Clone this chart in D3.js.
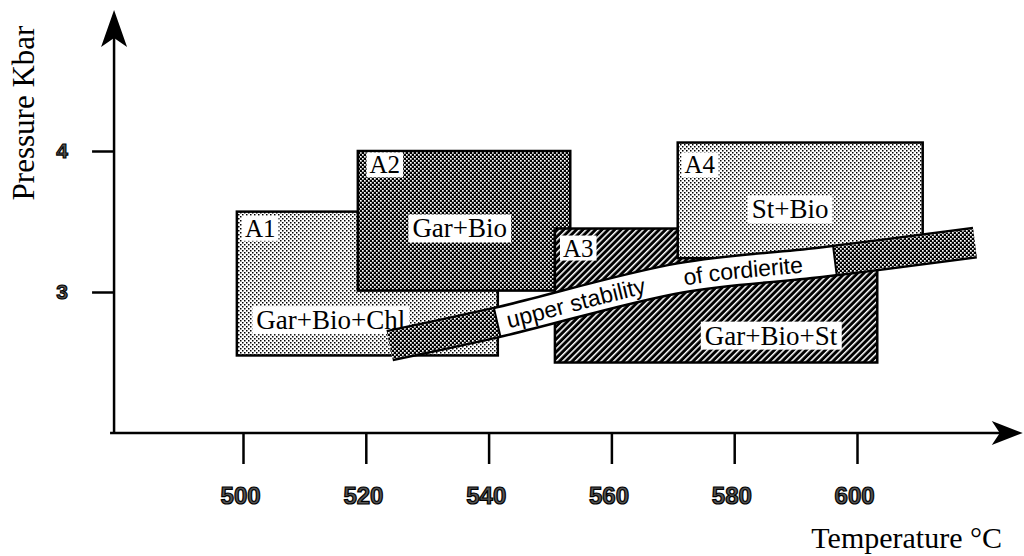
<!DOCTYPE html>
<html>
<head>
<meta charset="utf-8">
<script src="https://d3js.org/d3.v7.min.js"></script>
<style>
    body { margin: 0; background: #fff; }
    .serif { font-family: "Liberation Serif", "Times New Roman", serif; }
    .sans { font-family: "Liberation Sans", Arial, sans-serif; }
</style>
</head>
<body>
<svg width="1024" height="556"></svg>
<script>
    // axis ticks
    const tempTicks = [500, 520, 540, 560, 580, 600];
    const pressTicks = [3, 4];

    // P-T fields (degC, kbar)
    const regionNames = ["A1", "A2", "A3", "A4"];
    const regionTmin = [499, 518.7, 550.8, 570.8];
    const regionTmax = [541.5, 553.3, 603.3, 610.7];
    const regionPmin = [2.55, 3.01, 2.50, 3.24];
    const regionPmax = [3.57, 4.00, 3.45, 4.06];
    const regionLabelT = [502.8, 523.1, 554.6, 574.4];
    const regionLabelP = [3.45, 3.90, 3.31, 3.90];

    // mineral assemblages
    const assemblageNames = ["Gar+Bio+Chl", "Gar+Bio", "Gar+Bio+St", "St+Bio"];
    const assemblageT = [514.3, 535.3, 586.0, 589.1];
    const assemblageP = [2.80, 3.45, 2.69, 3.585];

    // cordierite stability band (centre line)
    const bandT = [523.9, 541.9, 571.2, 594.0, 619.2];
    const bandP = [2.62, 2.79, 3.10, 3.21, 3.35];
    const bandWhiteT = [541.4, 596.4];
    const bandLabels = ["upper stability", "of cordierite"];
    const bandLabelT = [543.0, 571.7];

    const svg = d3.select("svg");

    const x = d3.scaleLinear().domain([500, 600]).range([243, 857]);
    const y = d3.scaleLinear().domain([2, 5]).range([433, 10]);

    // fill patterns
    const defs = svg.append("defs");
    const light = defs.append("pattern").attr("id", "light")
        .attr("patternUnits", "userSpaceOnUse").attr("width", 4).attr("height", 4);
    light.append("rect").attr("width", 4).attr("height", 4).attr("fill", "#fff");
    light.append("rect").attr("width", 1.5).attr("height", 1.5).attr("fill", "#000");
    light.append("rect").attr("x", 2).attr("y", 2).attr("width", 1.5).attr("height", 1.5).attr("fill", "#000");

    const dark = defs.append("pattern").attr("id", "dark")
        .attr("patternUnits", "userSpaceOnUse").attr("width", 4).attr("height", 4);
    dark.append("rect").attr("width", 4).attr("height", 4).attr("fill", "#000");
    dark.append("rect").attr("width", 1.7).attr("height", 1.7).attr("fill", "#fff");
    dark.append("rect").attr("x", 2).attr("y", 2).attr("width", 1.7).attr("height", 1.7).attr("fill", "#fff");

    const hatch = defs.append("pattern").attr("id", "hatch")
        .attr("patternUnits", "userSpaceOnUse").attr("width", 4.5).attr("height", 4.5)
        .attr("patternTransform", "rotate(45)");
    hatch.append("rect").attr("width", 4.5).attr("height", 4.5).attr("fill", "#000");
    hatch.append("rect").attr("width", 1.5).attr("height", 4.5).attr("fill", "#fff");

    const regionPattern = ["light", "dark", "hatch", "light"];

    // axes
    const x0 = x(479), x1 = x(627), y0 = y(2), yTop = y(5);

    const gx = svg.append("g")
        .attr("transform", "translate(0," + y0 + ")")
        .call(d3.axisBottom(x).tickValues(tempTicks).tickSize(31).tickPadding(23).tickSizeOuter(0));
    gx.select(".domain").remove();
    gx.selectAll(".tick line").attr("stroke", "#000").attr("stroke-width", 2.5);
    gx.selectAll(".tick text")
        .attr("class", "sans")
        .attr("font-size", 24).attr("font-weight", "bold")
        .attr("dx", "-0.12em")
        .attr("fill", "#555").attr("stroke", "#000").attr("stroke-width", 1.2);

    const gy = svg.append("g")
        .attr("transform", "translate(" + x0 + ",0)")
        .call(d3.axisLeft(y).tickValues(pressTicks).tickFormat(d3.format("d"))
            .tickSize(22).tickPadding(24).tickSizeOuter(0));
    gy.select(".domain").remove();
    gy.selectAll(".tick line").attr("stroke", "#000").attr("stroke-width", 2.5);
    gy.selectAll(".tick text")
        .attr("class", "sans")
        .attr("font-size", 21).attr("font-weight", "bold")
        .attr("fill", "#555").attr("stroke", "#000").attr("stroke-width", 1.1);

    // axis lines with arrows
    svg.append("line").attr("x1", x0 - 4).attr("x2", x1 - 10).attr("y1", y0).attr("y2", y0)
        .attr("stroke", "#000").attr("stroke-width", 2.5);
    svg.append("line").attr("x1", x0).attr("x2", x0).attr("y1", y0 + 1).attr("y2", yTop + 12)
        .attr("stroke", "#000").attr("stroke-width", 2.5);
    svg.append("path")
        .attr("d", `M${x1},${y0} L${x1 - 31},${y0 - 12} L${x1 - 23},${y0} L${x1 - 31},${y0 + 12} Z`)
        .attr("fill", "#000");
    svg.append("path")
        .attr("d", `M${x0},${yTop} L${x0 - 13},${yTop + 37} L${x0},${yTop + 28} L${x0 + 13},${yTop + 37} Z`)
        .attr("fill", "#000");

    // axis titles
    svg.append("text").attr("class", "serif")
        .attr("font-size", 30)
        .attr("text-anchor", "end")
        .attr("x", 1002).attr("y", 548)
        .text("Temperature °C");
    svg.append("text").attr("class", "serif")
        .attr("font-size", 31)
        .attr("text-anchor", "middle")
        .attr("transform", "translate(34,113) rotate(-90)")
        .text("Pressure Kbar");

    // fields
    svg.selectAll("rect.region").data(regionNames).join("rect")
        .attr("class", "region")
        .attr("x", (d, i) => x(regionTmin[i]))
        .attr("y", (d, i) => y(regionPmax[i]))
        .attr("width", (d, i) => x(regionTmax[i]) - x(regionTmin[i]))
        .attr("height", (d, i) => y(regionPmin[i]) - y(regionPmax[i]))
        .attr("fill", (d, i) => "url(#" + regionPattern[i] + ")")
        .attr("stroke", "#000").attr("stroke-width", 2.5);

    // text on a white box
    function boxedLabel(txt, cx, cy, size, padX) {
        const g = svg.append("g");
        const t = g.append("text").attr("class", "serif")
            .attr("font-size", size)
            .attr("text-anchor", "middle")
            .attr("x", cx).attr("y", cy + size * 0.33)
            .text(txt);
        const b = t.node().getBBox();
        g.insert("rect", "text")
            .attr("x", b.x - padX).attr("y", b.y + 1)
            .attr("width", b.width + 2 * padX).attr("height", b.height - 2)
            .attr("fill", "#fff");
    }
    regionNames.forEach((d, i) => boxedLabel(d, x(regionLabelT[i]), y(regionLabelP[i]), 25, 3));
    assemblageNames.forEach((d, i) => boxedLabel(d, x(assemblageT[i]), y(assemblageP[i]), 27, 4));

    // cordierite band
    const line = d3.line().x(d => x(d[0])).y(d => y(d[1])).curve(d3.curveCatmullRom);
    const bandPts = bandT.map((t, i) => [t, bandP[i]]);
    const bandG = svg.append("g");
    const bandPath = bandG.append("path").attr("id", "band")
        .attr("d", line(bandPts))
        .attr("fill", "none").attr("stroke", "#000").attr("stroke-width", 32);
    const node = bandPath.node();
    const total = node.getTotalLength();
    function lenAtX(px) {
        let lo = 0, hi = total;
        for (let k = 0; k < 40; k++) {
            const m = (lo + hi) / 2;
            if (node.getPointAtLength(m).x < px) lo = m; else hi = m;
        }
        return (lo + hi) / 2;
    }
    const w0 = lenAtX(x(bandWhiteT[0])), w1 = lenAtX(x(bandWhiteT[1]));
    bandG.append("path").attr("d", line(bandPts))
        .attr("fill", "none").attr("stroke", "#fff").attr("stroke-width", 27);
    bandG.append("path").attr("d", line(bandPts))
        .attr("fill", "none").attr("stroke", "url(#dark)").attr("stroke-width", 27)
        .attr("stroke-dasharray", w0 + "," + (w1 - w0) + "," + total);

    // black edges where the white label part meets the dark part
    [w0, w1].forEach(l => {
        const p = node.getPointAtLength(l);
        const a = node.getPointAtLength(Math.max(0, l - 1)), b = node.getPointAtLength(Math.min(total, l + 1));
        const dx = b.x - a.x, dy = b.y - a.y, n = Math.hypot(dx, dy);
        const nx = -dy / n, ny = dx / n;
        bandG.append("line")
            .attr("x1", p.x - nx * 15).attr("y1", p.y - ny * 15)
            .attr("x2", p.x + nx * 15).attr("y2", p.y + ny * 15)
            .attr("stroke", "#000").attr("stroke-width", 2);
    });

    bandLabels.forEach((s, i) => {
        bandG.append("text").attr("class", "sans")
            .attr("font-size", 23)
            .attr("dy", "0.36em")
            .append("textPath")
            .attr("href", "#band")
            .attr("startOffset", lenAtX(x(bandLabelT[i])))
            .text(s);
    });
</script>
</body>
</html>
